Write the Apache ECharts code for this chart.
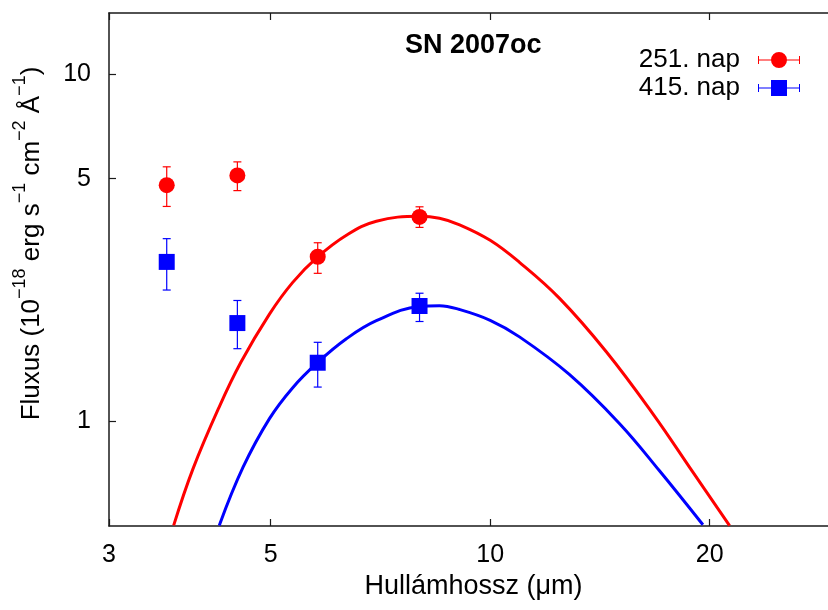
<!DOCTYPE html>
<html>
<head>
<meta charset="utf-8">
<script src="https://cdn.jsdelivr.net/npm/echarts@6/dist/echarts.min.js"></script>
<style>html,body{margin:0;padding:0;background:#fff;}#chart{width:828px;height:610px;}</style>
</head>
<body>
<div id="chart"></div>
<script>
// ---- data ----
const wavelengths = [3.6, 4.5, 5.8, 8.0];
const flux251 = [4.79, 5.11, 2.98, 3.88];
const err251Low = [4.16, 4.62, 2.67, 3.62];
const err251High = [5.41, 5.59, 3.27, 4.15];
const flux415 = [2.88, 1.92, 1.476, 2.15];
const err415Low = [2.39, 1.62, 1.256, 1.94];
const err415High = [3.36, 2.23, 1.69, 2.34];

const fit251X = [3.68, 3.91, 4.25, 4.55, 4.98, 5.36, 5.79, 6.35, 6.98, 8.0, 8.52, 9.08, 10.0, 10.97, 12.45, 14.43, 16.72, 18.96, 21.3];
const fit251Y = [0.502, 0.729, 1.102, 1.480, 2.038, 2.515, 2.967, 3.436, 3.771, 3.898, 3.846, 3.684, 3.324, 2.872, 2.262, 1.588, 1.052, 0.716, 0.501];
const fit415X = [4.25, 4.58, 4.98, 5.36, 5.79, 6.35, 6.98, 8.0, 8.52, 9.08, 10.0, 10.97, 12.84, 15.04, 17.07, 19.58];
const fit415Y = [0.502, 0.737, 1.019, 1.251, 1.474, 1.730, 1.950, 2.144, 2.155, 2.10, 1.955, 1.752, 1.366, 0.987, 0.721, 0.504];

const xTicks = [3, 5, 10, 20];
const yTicks = [1, 5, 10];
const seriesNames = ['251. nap', '415. nap'];
const titleText = 'SN 2007oc';

// ---- build ----
const FONT = 'Liberation Sans';
const RED = '#ff0000', BLUE = '#0000ff', AXIS = '#1a1a1a';
const zip = (a, b) => a.map((v, i) => [v, b[i]]);
const errData = (lo, hi) => wavelengths.map((w, i) => [w, lo[i], hi[i]]);

function errRender(color) {
  return function (params, api) {
    const x = api.value(0);
    const p1 = api.coord([x, api.value(1)]);
    const p2 = api.coord([x, api.value(2)]);
    const cw = 4;
    const st = { stroke: color, lineWidth: 1.2 };
    return {
      type: 'group',
      children: [
        { type: 'line', shape: { x1: p1[0], y1: p1[1], x2: p2[0], y2: p2[1] }, style: st },
        { type: 'line', shape: { x1: p1[0] - cw, y1: p1[1], x2: p1[0] + cw, y2: p1[1] }, style: st },
        { type: 'line', shape: { x1: p2[0] - cw, y1: p2[1], x2: p2[0] + cw, y2: p2[1] }, style: st }
      ]
    };
  };
}

const bar = 'M0 7.5H42V8.5H0Z M0 4H1V12H0Z M41 4H42V12H41Z ';
const iconCircle = 'path://' + bar + 'M29 8A8 8 0 1 1 13 8A8 8 0 1 1 29 8Z';
const iconSquare = 'path://' + bar + 'M13 0H29V16H13Z';

const xAxisBase = {
  type: 'log', logBase: 10, min: 3, max: 30,
  axisLine: { show: true, lineStyle: { color: AXIS, width: 1.5 } },
  axisTick: { show: true, inside: true, length: 7, customValues: xTicks, lineStyle: { color: AXIS, width: 1.2 } },
  splitLine: { show: false }, minorTick: { show: false }
};

const option = {
  backgroundColor: '#fff',
  animation: false,
  textStyle: { fontFamily: FONT },
  title: {
    text: titleText, left: 405, top: 32, padding: 0,
    textStyle: { fontFamily: FONT, fontWeight: 'bold', fontSize: 27, color: '#000' }
  },
  legend: {
    orient: 'vertical', right: 28, top: 47, align: 'right', itemGap: 2, padding: 0,
    itemWidth: 42, itemHeight: 16,
    textStyle: { fontFamily: FONT, fontSize: 26, color: '#000', padding: [0, 13, 0, 0] },
    data: [{ name: seriesNames[0], icon: iconCircle }, { name: seriesNames[1], icon: iconSquare }]
  },
  grid: { left: 109, right: -10, top: 13, bottom: 84, containLabel: false, outerBoundsMode: 'none' },
  xAxis: [
    Object.assign({}, xAxisBase, {
      position: 'bottom',
      name: 'Hullámhossz (μm)', nameLocation: 'middle', nameGap: 44,
      nameTextStyle: { fontFamily: FONT, fontSize: 27, color: '#000' },
      axisLabel: { show: true, customValues: xTicks, margin: 17, fontFamily: FONT, fontSize: 25, color: '#000' }
    }),
    Object.assign({}, xAxisBase, { position: 'top', axisLabel: { show: false } })
  ],
  yAxis: {
    type: 'log', logBase: 10, min: 0.5, max: 15,
    axisLine: { show: true, lineStyle: { color: AXIS, width: 1.5 } },
    axisTick: { show: true, inside: true, length: 7, customValues: yTicks, lineStyle: { color: AXIS, width: 1.2 } },
    axisLabel: { show: true, customValues: yTicks, margin: 18, fontFamily: FONT, fontSize: 25, color: '#000' },
    splitLine: { show: false }, minorTick: { show: false },
    name: '{b|Fluxus (10}{s|−18}{b| erg s}{s|−1}{b| cm}{s|−2}{b| Å}{s|−1}{b|)}',
    nameLocation: 'middle', nameRotate: 90, nameGap: 64,
    nameTextStyle: {
      color: '#000', padding: [0, 0, 0, 52],
      rich: {
        b: { fontFamily: FONT, fontSize: 26, lineHeight: 34, verticalAlign: 'bottom', color: '#000' },
        s: { fontFamily: FONT, fontSize: 18, lineHeight: 34, verticalAlign: 'top', color: '#000' }
      }
    }
  },
  series: [
    { type: 'line', name: 'fit251', data: zip(fit251X, fit251Y), smooth: 0.4, symbol: 'none',
      lineStyle: { color: RED, width: 3 }, itemStyle: { color: RED }, z: 2, clip: true },
    { type: 'line', name: 'fit415', data: zip(fit415X, fit415Y), smooth: 0.4, symbol: 'none',
      lineStyle: { color: BLUE, width: 3 }, itemStyle: { color: BLUE }, z: 2, clip: true },
    { type: 'custom', name: 'err251', data: errData(err251Low, err251High), renderItem: errRender(RED),
      encode: { x: 0, y: [1, 2] }, z: 3 },
    { type: 'custom', name: 'err415', data: errData(err415Low, err415High), renderItem: errRender(BLUE),
      encode: { x: 0, y: [1, 2] }, z: 3 },
    { type: 'scatter', name: seriesNames[0], data: zip(wavelengths, flux251), symbol: 'circle', symbolSize: 16,
      itemStyle: { color: RED, opacity: 1 }, z: 4 },
    { type: 'scatter', name: seriesNames[1], data: zip(wavelengths, flux415), symbol: 'rect', symbolSize: 16,
      itemStyle: { color: BLUE, opacity: 1 }, z: 4 }
  ]
};

const chart = echarts.init(document.getElementById('chart'), null, { renderer: 'canvas' });
chart.setOption(option);
</script>
</body>
</html>
